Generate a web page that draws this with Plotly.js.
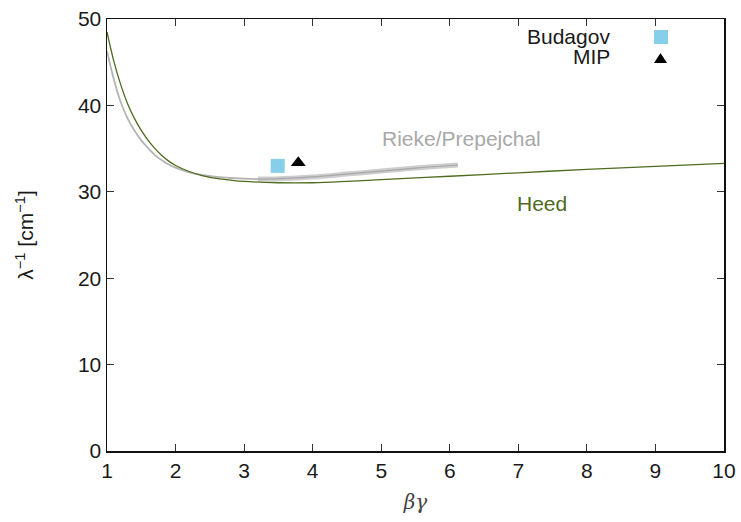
<!DOCTYPE html>
<html>
<head>
<meta charset="utf-8">
<script src="https://cdn.plot.ly/plotly-3.0.1.min.js"></script>
<style>html,body{margin:0;padding:0;background:#fff;}#chart{width:741px;height:522px;}</style>
</head>
<body>
<div id="chart"></div>
<script>
// Heed curve
var heedX = [1.0, 1.1, 1.2, 1.3, 1.4, 1.5, 1.6, 1.7, 1.8, 1.9, 2.0, 2.2, 2.4, 2.6, 2.8, 3.0, 3.5, 4.0, 4.5, 5.0, 6.0, 7.0, 8.0, 9.0, 10.0];
var heedY = [48.5, 45.1, 42.4, 40.2, 38.5, 37.1, 35.95, 35.0, 34.2, 33.55, 33.05, 32.35, 31.85, 31.55, 31.35, 31.2, 31.05, 31.05, 31.2, 31.4, 31.8, 32.2, 32.6, 32.95, 33.3];
// Rieke/Prepejchal (thin part)
var riekeX = [1.0, 1.1, 1.2, 1.3, 1.4, 1.5, 1.6, 1.7, 1.8, 1.9, 2.0, 2.2, 2.4, 2.6, 2.8, 3.0, 3.2];
var riekeY = [46.3, 43.0, 40.4, 38.5, 37.1, 35.95, 35.05, 34.25, 33.65, 33.15, 32.8, 32.25, 31.92, 31.72, 31.6, 31.52, 31.47];
// Rieke/Prepejchal (band part)
var prepX = [3.2, 3.5, 4.0, 4.5, 5.0, 5.5, 6.12];
var prepY = [31.47, 31.52, 31.72, 32.05, 32.4, 32.75, 33.1];
// measurements
var budagovX = [3.49], budagovY = [33.0];
var mipX = [3.79], mipY = [33.35];
var xTicks = [1,2,3,4,5,6,7,8,9,10];
var yTicks = [0,10,20,30,40,50];

var FONT = '"Liberation Sans", Arial, sans-serif';
var TXT = '#1a1a1a';
var traces = [
  {x: prepX, y: prepY, mode: 'lines', line: {color: 'rgba(205,205,205,1)', width: 5, shape: 'spline'}, hoverinfo: 'skip'},
  {x: prepX, y: prepY, mode: 'lines', line: {color: '#a8a8a8', width: 1.2, shape: 'spline'}, hoverinfo: 'skip'},
  {x: riekeX, y: riekeY, mode: 'lines', line: {color: '#b4b4b4', width: 1.8, shape: 'spline'}, hoverinfo: 'skip'},
  {x: heedX, y: heedY, mode: 'lines', line: {color: '#4f6b1f', width: 1.3, shape: 'spline'}},
  {x: budagovX, y: budagovY, mode: 'markers', marker: {symbol: 'square', size: 14, color: '#87ceeb'}},
  {x: mipX, y: mipY, mode: 'markers', marker: {symbol: 'triangle-up', size: 13, color: '#000'}}
];
traces.forEach(function(t){ t.showlegend = false; });

var layout = {
  width: 741, height: 522,
  margin: {l: 107, r: 17, t: 19, b: 71},
  paper_bgcolor: '#fff', plot_bgcolor: '#fff',
  font: {family: FONT, size: 21, color: TXT},
  showlegend: false,
  xaxis: {
    range: [1, 10], tickvals: xTicks, ticktext: xTicks.map(String),
    ticks: 'inside', ticklen: 7, tickcolor: '#333', tickwidth: 1.2,
    showline: true, linecolor: '#111', linewidth: 1.5, mirror: 'ticks',
    showgrid: false, zeroline: false,
    tickfont: {family: FONT, size: 21, color: TXT},
    title: {text: '<i>βγ</i>', font: {family: '"DejaVu Serif", serif', size: 20, color: '#444'}, standoff: 14}
  },
  yaxis: {
    range: [0, 50], tickvals: yTicks, ticktext: yTicks.map(String),
    ticks: 'inside', ticklen: 7, tickcolor: '#333', tickwidth: 1.2,
    showline: true, linecolor: '#111', linewidth: 1.5, mirror: 'ticks',
    showgrid: false, zeroline: false,
    tickfont: {family: FONT, size: 21, color: TXT},
    title: {text: 'λ<sup>−1</sup> [cm<sup>−1</sup>]', font: {family: FONT, size: 21, color: TXT}, standoff: 38}
  },
  annotations: [
    {x: 6.17, y: 36.2, xref: 'x', yref: 'y', xanchor: 'center', yanchor: 'middle', text: 'Rieke/Prepejchal', showarrow: false, font: {family: FONT, size: 21, color: '#a8a8a8'}},
    {x: 7.34, y: 28.6, xref: 'x', yref: 'y', xanchor: 'center', yanchor: 'middle', text: 'Heed', showarrow: false, font: {family: FONT, size: 21, color: '#4f6b1f'}},
    {x: (612-107)/617, y: (451-37)/432, xref: 'paper', yref: 'paper', xanchor: 'right', yanchor: 'middle', text: 'Budagov', showarrow: false, font: {family: FONT, size: 21, color: TXT}},
    {x: (612-107)/617, y: (451-57)/432, xref: 'paper', yref: 'paper', xanchor: 'right', yanchor: 'middle', text: 'MIP', showarrow: false, font: {family: FONT, size: 21, color: TXT}}
  ],
  shapes: [
    {type: 'rect', xref: 'paper', yref: 'paper', x0: (654-107)/617, x1: (668-107)/617, y0: (451-44)/432, y1: (451-30)/432, fillcolor: '#87ceeb', line: {width: 0}},
    {type: 'path', xref: 'paper', yref: 'paper', path: 'M ' + ((654-107)/617) + ' ' + ((451-63)/432) + ' L ' + ((667-107)/617) + ' ' + ((451-63)/432) + ' L ' + ((660.5-107)/617) + ' ' + ((451-53)/432) + ' Z', fillcolor: '#000', line: {width: 0}}
  ]
};
Plotly.newPlot('chart', traces, layout, {displayModeBar: false, staticPlot: true});
</script>
</body>
</html>
